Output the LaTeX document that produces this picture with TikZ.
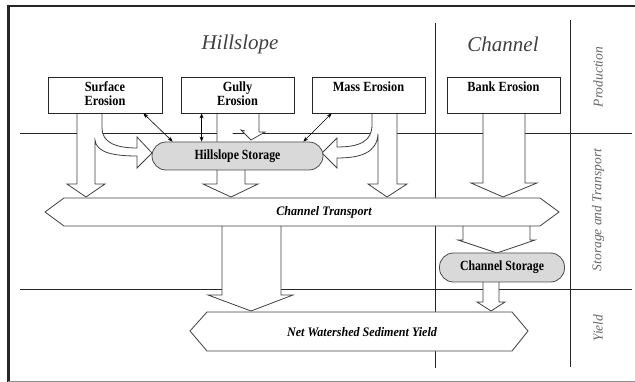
\documentclass[tikz,border=0pt]{standalone}
\usepackage{fontspec}
\setmainfont{Liberation Serif}
\usepackage{graphicx}
\usetikzlibrary{arrows.meta,positioning}

\newcommand{\tightx}[1]{\scalebox{0.84}[1]{#1}}

\begin{document}
\begin{tikzpicture}[x=1pt, y=-1pt,
    every node/.style={inner sep=0pt},
    grid/.style={draw=black!85, line width=0.8pt},
    blk/.style={draw=black!75, fill=white, line width=0.8pt},
    source/.style={draw=black!85, line width=0.8pt, minimum width=114pt, minimum height=36pt},
    store/.style={draw=black!70, fill=gray!30, rounded corners=14pt, line width=0.8pt,
                  font=\fontsize{14}{14}\selectfont\bfseries},
    twoway/.style={{Stealth[length=5pt,width=4pt]}-{Stealth[length=5pt,width=4pt]}, line width=0.6pt},
    title/.style={font=\fontsize{21}{24}\selectfont\itshape, text=black!75},
    side/.style={font=\fontsize{13.5}{14}\selectfont\itshape, text=black!60, rotate=90},
    boxlbl/.style={font=\fontsize{14}{14}\selectfont\bfseries, align=center, xscale=0.88, transform shape},
    flowlbl/.style={font=\fontsize{13}{14}\selectfont\bfseries\itshape, xscale=0.93, transform shape}]
  \useasboundingbox (0,0) rectangle (635,382);

  % frame
  \draw[line width=2.5pt, black!85] (8.5,382) -- (8.5,6) -- (635,6);
  \draw[line width=0.8pt, black!45] (8,381) -- (635,381);

  % rows and columns
  \draw[grid] (20,133) -- (632,133);
  \draw[grid] (20,289) -- (632,289);
  \draw[grid] (435,23) -- (435,368);
  \draw[grid] (570,20) -- (570,367);

  % surface erosion: down and into storage
  \draw[blk] (77,113) -- (77,184) -- (67,184) -- (86,197) -- (105,184) -- (95,184) -- (95,140)
    .. controls (96,153) and (115,156) .. (137,156) -- (137,168) -- (152,153) -- (137,137) -- (137,148)
    .. controls (115,148) and (102,142) .. (102,128) -- (102,113);
  % gully erosion
  \draw[blk] (217,113) -- (217,184) -- (203,184) -- (231,197) -- (258,184) -- (245,184) -- (245,150);
  \draw[blk] (259,113) -- (259,132) -- (265,132) -- (251,140) -- (241,130) -- (245,131);
  % mass erosion
  \draw[blk] (397,113) -- (397,184) -- (407,184) -- (387,197) -- (368,184) -- (378,184) -- (378,134)
    .. controls (377,153) and (360,158) .. (337,158) -- (337,168) -- (322,153) -- (337,138) -- (337,147)
    .. controls (360,147) and (372,141) .. (372,125) -- (372,113);
  % bank erosion
  \draw[blk] (483,113) -- (483,183) -- (471,183) -- (503,197) -- (537,183) -- (525,183) -- (525,113);
  % out of channel transport
  \draw[blk] (463,226) -- (463,240) -- (458,240) -- (497,253) -- (535,240) -- (530,240) -- (530,226);
  \draw[blk] (222,226) -- (222,295) -- (208,295) -- (251,311) -- (293,295) -- (281,295) -- (281,226);
  \draw[blk] (483,282) -- (483,302) -- (477,302) -- (491,311) -- (505,302) -- (499,302) -- (499,282);

  % transport and yield
  \draw[blk] (45,212) -- (64,198) -- (540,198) -- (559,212) -- (540,226) -- (64,226) -- cycle;
  \draw[blk] (190,331) -- (207,312) -- (512,312) -- (528,331) -- (512,351) -- (207,351) -- cycle;
  \node[flowlbl] (trans) at (324,212) {Channel Transport};
  \node[flowlbl] (yield) at (362,332) {Net Watershed Sediment Yield};

  % sources
  \node[source] (surf) at (105,95) {};
  \node[source, minimum width=113pt] (gully) at (237.5,95) {};
  \node[source, minimum width=113pt] (mass) at (368.5,95) {};
  \node[source, minimum width=113pt] (bank) at (503.5,95) {};
  \node[boxlbl, below=5pt of surf.north] (lsurf) {Surface\\Erosion};
  \node[boxlbl, below=5pt of gully.north] (lgully) {Gully\\Erosion};
  \node[boxlbl, below=5pt of mass.north] (lmass) {Mass Erosion};
  \node[boxlbl, below=5pt of bank.north] (lbank) {Bank Erosion};

  % storages
  \node[store, minimum width=171pt, minimum height=28pt] (hstore) at (237.5,156) {\tightx{Hillslope Storage}};
  \node[store, minimum width=125pt, minimum height=29pt] (cstore) at (502,267.5) {\tightx{Channel Storage}};

  \draw[twoway] ([xshift=-19pt]surf.south east) -- ([xshift=21pt]hstore.north west);
  \draw[twoway] ([xshift=21pt]gully.south west) -- ([xshift=50pt]hstore.north west);
  \draw[twoway] ([xshift=20pt]mass.south west) -- ([xshift=-20pt]hstore.north east);

  % headings
  \node[title] (thill) at (240,44) {Hillslope};
  \node[title] (tchan) at (503,44) {Channel};
  \node[side] (tprod) at (598,77) {Production};
  \node[side] (tstor) at (598,210) {Storage and Transport};
  \node[side] (tyld) at (598,328) {Yield};
\end{tikzpicture}
\end{document}
